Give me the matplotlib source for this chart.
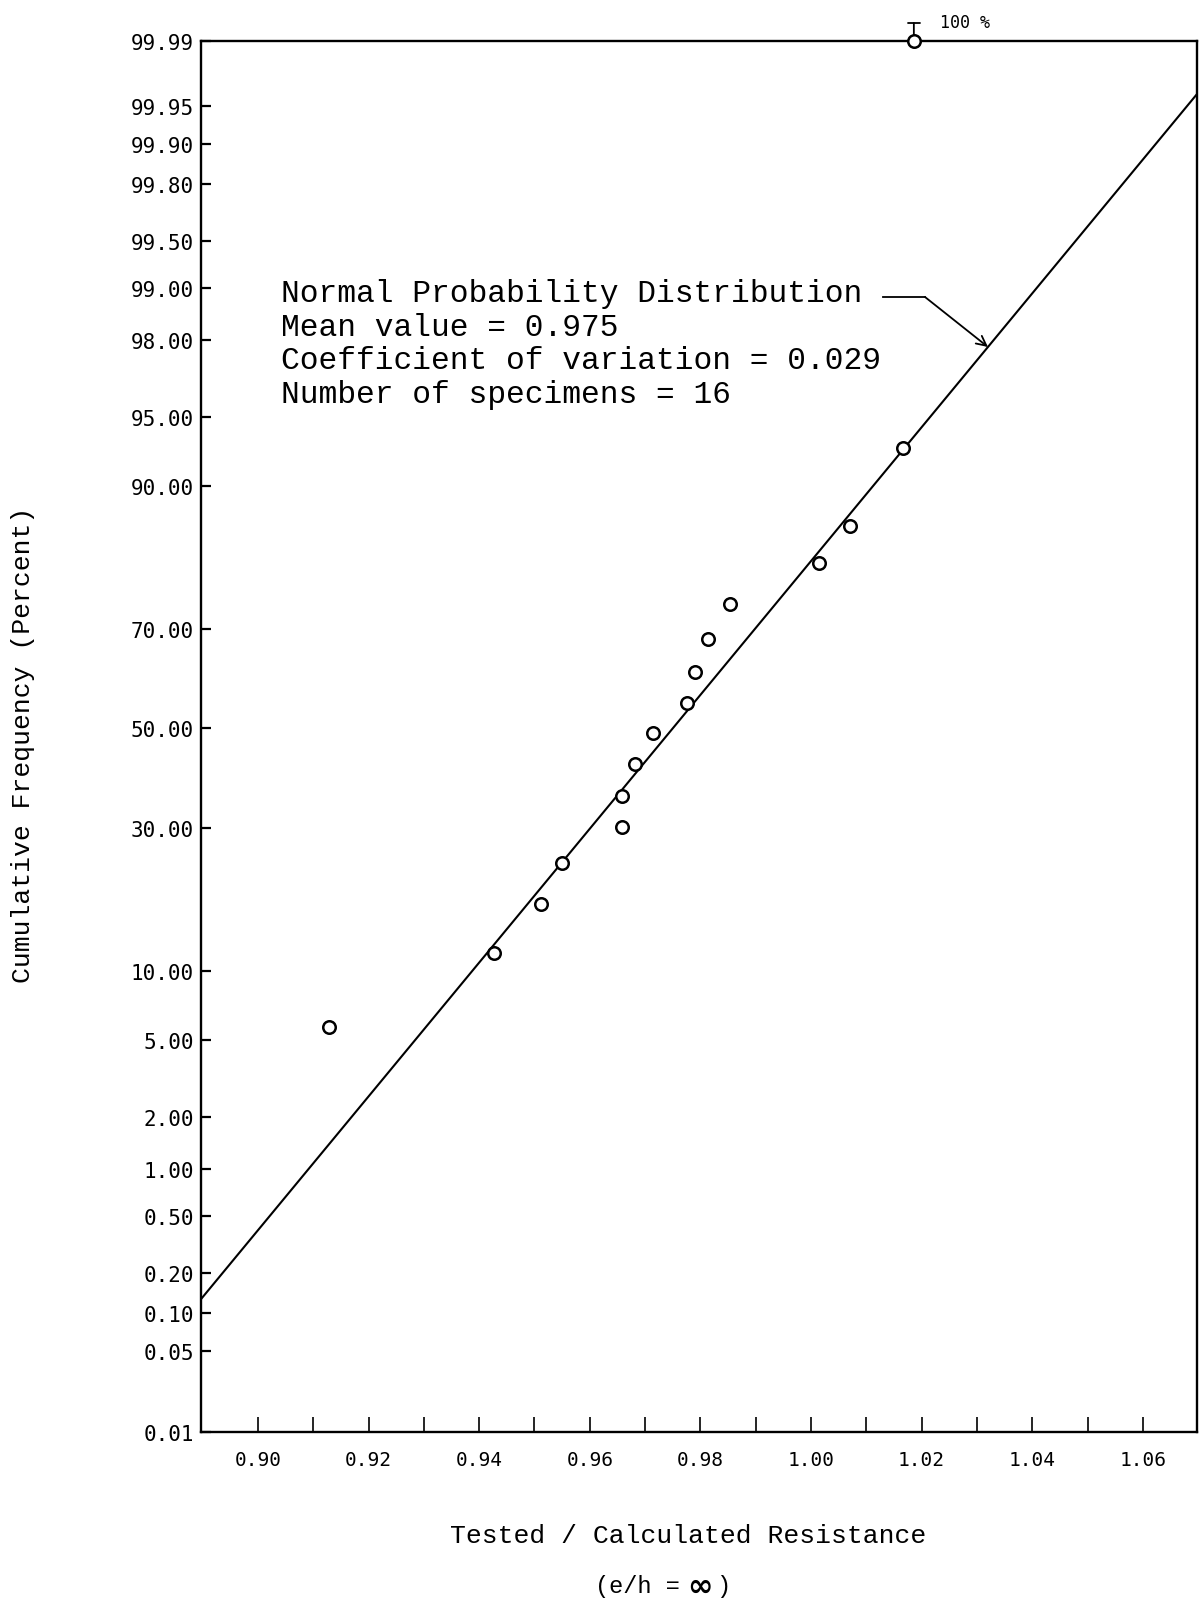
import math
import numpy as np
import matplotlib
matplotlib.use("Agg")
import matplotlib.pyplot as plt
from matplotlib.lines import Line2D

# test results: tested / calculated resistance and cumulative frequency (%)
ratio = [0.9129, 0.9427, 0.9512, 0.9550, 0.9659, 0.9659, 0.9682, 0.9715,
         0.9776, 0.9791, 0.9814, 0.9854, 1.0015, 1.0070, 1.0167, 1.0186]
cum_freq = [5.7, 11.8, 17.6, 23.9, 30.2, 36.1, 42.5, 49.0,
            55.3, 61.7, 68.1, 74.4, 80.9, 85.8, 93.1, 100.0]

mean_value = 0.975
cov = 0.029
n_specimens = 16

y_ticks = [0.01, 0.05, 0.10, 0.20, 0.50, 1.00, 2.00, 5.00, 10.00, 30.00,
           50.00, 70.00, 90.00, 95.00, 98.00, 99.00, 99.50, 99.80, 99.90,
           99.95, 99.99]
x_ticks = [0.90, 0.91, 0.92, 0.93, 0.94, 0.95, 0.96, 0.97, 0.98, 0.99,
           1.00, 1.01, 1.02, 1.03, 1.04, 1.05, 1.06]

# top edge of the probability paper (printed as 99.99)
paper_top = 99.986
x_range = (0.8897, 1.0698)


# --- normal probability scale -------------------------------------------
A = [-3.969683028665376e+01, 2.209460984245205e+02, -2.759285104469687e+02,
     1.383577518672690e+02, -3.066479806614716e+01, 2.506628277459239e+00]
B = [-5.447609879822406e+01, 1.615858368580409e+02, -1.556989798598866e+02,
     6.680131188771972e+01, -1.328068155288572e+01]
C = [-7.784894002430293e-03, -3.223964580411365e-01, -2.400758277161838e+00,
     -2.549671348283474e+00, 4.374664141464968e+00, 2.938163982698783e+00]
D = [7.784695709041462e-03, 3.224671290700398e-01, 2.445134137142996e+00,
     3.754408661907416e+00]


def ppf(p):
    p = np.clip(np.asarray(p, dtype=float), 1e-15, 1 - 1e-15)
    q = p - 0.5
    r = q * q
    mid = (((((A[0]*r + A[1])*r + A[2])*r + A[3])*r + A[4])*r + A[5]) * q / \
          (((((B[0]*r + B[1])*r + B[2])*r + B[3])*r + B[4])*r + 1)
    ql = np.sqrt(-2 * np.log(np.minimum(p, 1 - p)))
    tail = (((((C[0]*ql + C[1])*ql + C[2])*ql + C[3])*ql + C[4])*ql + C[5]) / \
           ((((D[0]*ql + D[1])*ql + D[2])*ql + D[3])*ql + 1)
    tail = np.where(p < 0.5, tail, -tail)
    return np.where(np.abs(q) <= 0.5 - 0.02425, mid, tail)


_erf = np.vectorize(math.erf, otypes=[float])


def cdf(z):
    return 0.5 * (1 + _erf(np.asarray(z, dtype=float) / math.sqrt(2)))


def fwd(pct):
    return ppf(np.asarray(pct, dtype=float) / 100.0)


def inv(z):
    return 100.0 * cdf(z)


def fitted(x):
    return 100.0 * cdf((np.asarray(x) - mean_value) / (cov * mean_value))


plt.rcParams["font.family"] = ["DejaVu Sans Mono"]

W, H = 1201, 1606
fig = plt.figure(figsize=(W / 100, H / 100), dpi=100)
ax = fig.add_axes([201 / W, 1 - 1433 / H, (1197 - 201) / W, (1433 - 42) / H])

ax.set_yscale("function", functions=(fwd, inv))
ax.set_xlim(*x_range)
ax.set_ylim(0.01, paper_top)

# fitted normal distribution
xs = np.linspace(x_range[0], x_range[1], 200)
ax.plot(xs, fitted(xs), color="black", lw=1.5)

# specimens
ys = np.minimum(cum_freq, paper_top)
ax.plot(ratio, ys, ls="none", marker="o", ms=9, mfc="white", mec="black",
        mew=1.8, clip_on=False, zorder=5)

# 100 % marker above the top point
ax.annotate("", xy=(ratio[-1], ys[-1]), xytext=(0, 13), textcoords="offset points",
            arrowprops=dict(arrowstyle="]-, widthA=0.45, lengthA=0", color="black",
                            lw=1.3, shrinkA=0, shrinkB=4.5))
ax.annotate("100 %", xy=(ratio[-1], ys[-1]), xytext=(19, 14), textcoords="offset points",
            fontsize=12, va="center", ha="left", annotation_clip=False)

# ticks
ax.set_yticks([min(v, paper_top) for v in y_ticks])
ax.set_yticklabels(["%.2f" % v for v in y_ticks])
ax.yaxis.set_minor_locator(matplotlib.ticker.NullLocator())
ax.set_xticks(x_ticks)
ax.set_xticklabels(["%.2f" % v if i % 2 == 0 else "" for i, v in enumerate(x_ticks)])
ax.tick_params(axis="y", direction="in", length=7, width=1.6, pad=5, labelsize=15)
ax.tick_params(axis="x", direction="in", length=11, width=1.2, pad=13, labelsize=14)
for s in ax.spines.values():
    s.set_linewidth(1.7)

# text block
mono = ["Liberation Mono", "DejaVu Sans Mono"]
lines = ["Normal Probability Distribution",
         "Mean value = %.3f" % mean_value,
         "Coefficient of variation = %.3f" % cov,
         "Number of specimens = %d" % n_specimens]
for i, t in enumerate(lines):
    fig.text(281 / W, 1 - (294 + 33.5 * i) / H, t, family=mono, fontsize=22.5,
             va="center", ha="left")

# leader with arrow to the fitted line
fig.add_artist(Line2D([883 / W, 925 / W], [1 - 298 / H, 1 - 298 / H],
                      color="black", lw=1.3))
x_tip = 1.032
ax.annotate("", xy=(x_tip, fitted(x_tip)), xytext=(925 / W, 1 - 298 / H),
            textcoords="figure fraction",
            arrowprops=dict(arrowstyle="->, head_length=0.7, head_width=0.35",
                            color="black", lw=1.3, shrinkA=0, shrinkB=0))

# axis titles
fig.text(23 / W, 1 - 745 / H, "Cumulative Frequency (Percent)", family=mono,
         fontsize=19, rotation=90, va="center", ha="center")
fig.text(688 / W, 1 - 1536 / H, "Tested / Calculated Resistance", family=mono,
         fontsize=19, va="center", ha="center")
fig.text(680 / W, 1 - 1587 / H, "(e/h =", family=mono, fontsize=17,
         va="center", ha="right")
fig.text(700 / W, 1 - 1587 / H, "\u221e", family=["DejaVu Sans"], fontsize=22,
         weight="bold", va="center", ha="center")
fig.text(716 / W, 1 - 1587 / H, ")", family=mono, fontsize=17,
         va="center", ha="left")

fig.savefig("out.png", dpi=100)
